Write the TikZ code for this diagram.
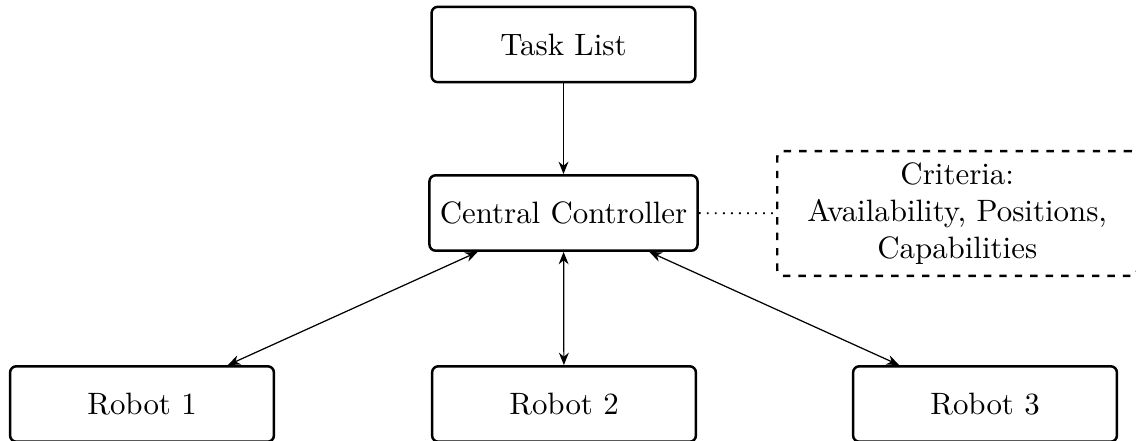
\documentclass[tikz,border=0pt]{standalone}
\usetikzlibrary{arrows.meta}
\begin{document}
\begin{tikzpicture}[x=0.3236pt,y=-0.3236pt,
  >={Stealth[length=4pt,width=3.2pt,inset=1.3pt]},
  box/.style={draw,thick,rounded corners=2pt,minimum width=3cm,minimum height=24.4pt,align=center},
  critbox/.style={draw,thick,rounded corners=2pt,dash pattern=on 2.4pt off 2.6pt,
    minimum width=116.5pt,minimum height=40.4pt,align=center,anchor=west},
  link/.style={->},
  duplex/.style={<->}]
  \useasboundingbox (0,0) rectangle (1136,441);
  % task source and dispatcher
  \node[box] (task) at (563.5,44.5) {Task List};
  \node[box] (ctrl) at (563.5,213) {Central Controller};
  % assignment criteria
  \node[critbox] (crit) at (776,213.5) {Criteria:\\Availability, Positions,\\Capabilities};
  % robots
  \node[box] (r1) at (142,404) {Robot 1};
  \node[box] (r2) at (564,404) {Robot 2};
  \node[box] (r3) at (985,404) {Robot 3};
  % connections
  \draw[link] (task) -- (ctrl);
  \draw[dotted,semithick] (ctrl) -- (crit);
  \draw[duplex] (ctrl) -- (r1);
  \draw[duplex] (ctrl) -- (r2);
  \draw[duplex] (ctrl) -- (r3);
\end{tikzpicture}
\end{document}
